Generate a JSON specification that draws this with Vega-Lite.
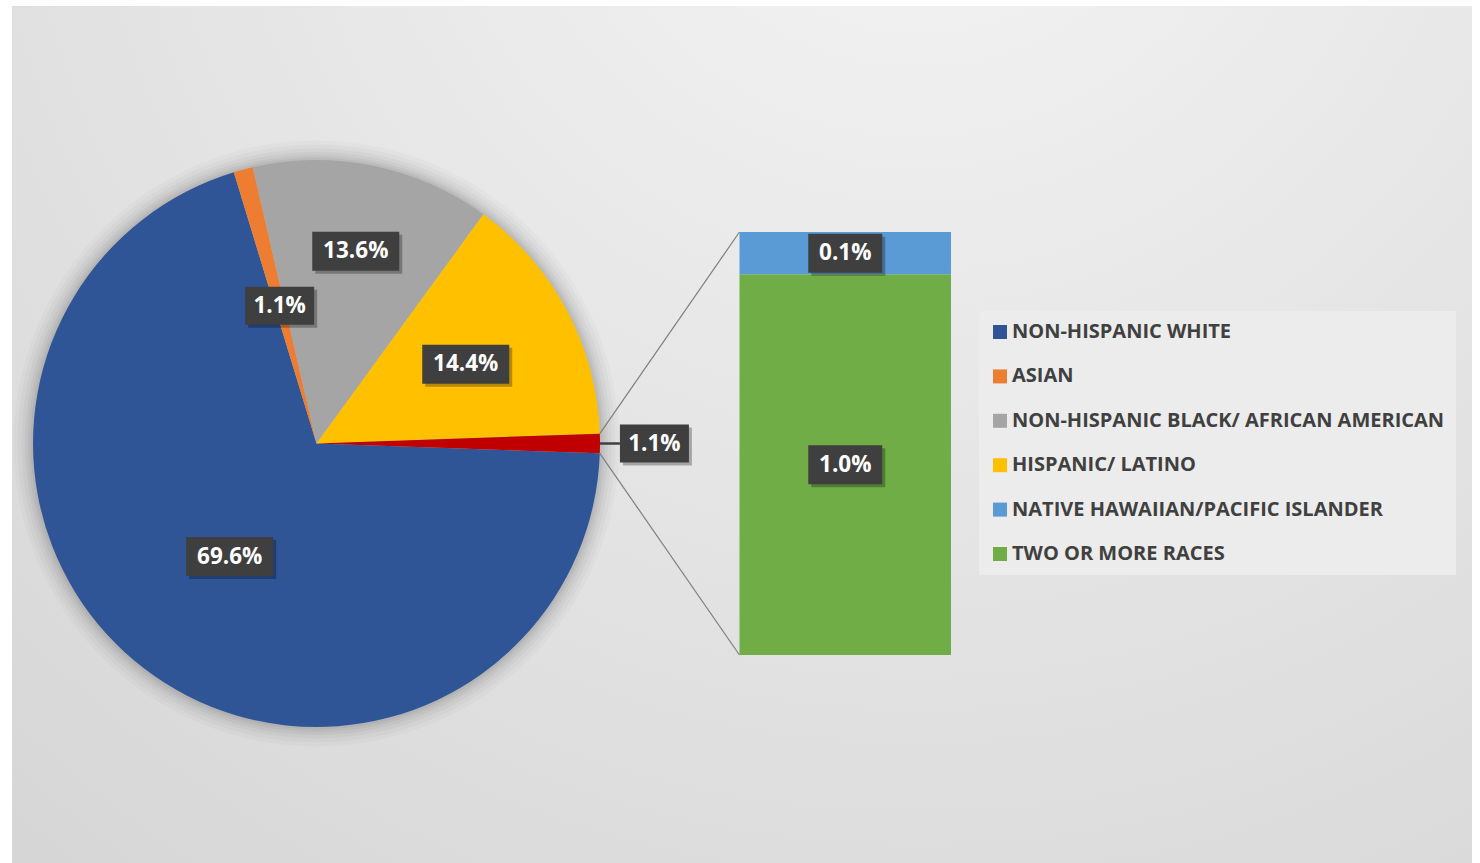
{
  "$schema": "https://vega.github.io/schema/vega-lite/v6.json",
  "width": 1480,
  "height": 863,
  "autosize": {"type": "fit", "contains": "padding"},
  "padding": {"left": 12, "top": 6, "right": 8, "bottom": 0},
  "background": "#ffffff",
  "config": {
    "view": {
      "stroke": null,
      "fill": {
        "gradient": "radial",
        "x1": 0.62, "y1": 0.05, "r1": 0,
        "x2": 0.62, "y2": 0.05, "r2": 1.05,
        "stops": [
          {"offset": 0, "color": "#f5f5f5"},
          {"offset": 1, "color": "#d3d3d3"}
        ]
      }
    },
    "font": "Open Sans"
  },
  "datasets": {
    "pie": [
      {"cat": "NON-HISPANIC WHITE", "share": 0.696, "ord": 1},
      {"cat": "ASIAN", "share": 0.011, "ord": 2},
      {"cat": "NON-HISPANIC BLACK/ AFRICAN AMERICAN", "share": 0.136, "ord": 3},
      {"cat": "HISPANIC/ LATINO", "share": 0.144, "ord": 4},
      {"cat": "OTHER", "share": 0.011, "ord": 5}
    ],
    "bar": [
      {"cat": "TWO OR MORE RACES", "share": 0.0099, "ord": 1},
      {"cat": "NATIVE HAWAIIAN/PACIFIC ISLANDER", "share": 0.0011, "ord": 2}
    ]
  },
  "layer": [
    {
      "data": {"values": [{"k": 1}]},
      "mark": {"type": "arc", "theta": 0, "theta2": 6.2832, "outerRadius": 303, "fill": "#000000", "opacity": 0.02},
      "encoding": {
        "x": {"datum": 0, "type": "quantitative", "scale": {"domain": [-0.0079184, 0.0300485], "nice": false, "zero": false}, "axis": null},
        "y": {"datum": 0.0055, "type": "quantitative", "scale": {"domain": [-0.005409, 0.0168771], "nice": false, "zero": false}, "axis": null}
      }
    },
    {
      "data": {"values": [{"k": 1}]},
      "mark": {"type": "arc", "theta": 0, "theta2": 6.2832, "outerRadius": 299, "fill": "#000000", "opacity": 0.025},
      "encoding": {
        "x": {"datum": 0, "type": "quantitative", "scale": {"domain": [-0.0079184, 0.0300485], "nice": false, "zero": false}, "axis": null},
        "y": {"datum": 0.0055, "type": "quantitative", "scale": {"domain": [-0.005409, 0.0168771], "nice": false, "zero": false}, "axis": null}
      }
    },
    {
      "data": {"values": [{"k": 1}]},
      "mark": {"type": "arc", "theta": 0, "theta2": 6.2832, "outerRadius": 295, "fill": "#000000", "opacity": 0.03},
      "encoding": {
        "x": {"datum": 0, "type": "quantitative", "scale": {"domain": [-0.0079184, 0.0300485], "nice": false, "zero": false}, "axis": null},
        "y": {"datum": 0.0055, "type": "quantitative", "scale": {"domain": [-0.005409, 0.0168771], "nice": false, "zero": false}, "axis": null}
      }
    },
    {
      "data": {"values": [{"k": 1}]},
      "mark": {"type": "arc", "theta": 0, "theta2": 6.2832, "outerRadius": 291.5, "fill": "#000000", "opacity": 0.035},
      "encoding": {
        "x": {"datum": 0, "type": "quantitative", "scale": {"domain": [-0.0079184, 0.0300485], "nice": false, "zero": false}, "axis": null},
        "y": {"datum": 0.0055, "type": "quantitative", "scale": {"domain": [-0.005409, 0.0168771], "nice": false, "zero": false}, "axis": null}
      }
    },
    {
      "data": {"values": [{"k": 1}]},
      "mark": {"type": "arc", "theta": 0, "theta2": 6.2832, "outerRadius": 288.5, "fill": "#000000", "opacity": 0.04},
      "encoding": {
        "x": {"datum": 0, "type": "quantitative", "scale": {"domain": [-0.0079184, 0.0300485], "nice": false, "zero": false}, "axis": null},
        "y": {"datum": 0.0055, "type": "quantitative", "scale": {"domain": [-0.005409, 0.0168771], "nice": false, "zero": false}, "axis": null}
      }
    },
    {
      "data": {"values": [{"k": 1}]},
      "mark": {"type": "arc", "theta": 0, "theta2": 6.2832, "outerRadius": 286, "fill": "#000000", "opacity": 0.045},
      "encoding": {
        "x": {"datum": 0, "type": "quantitative", "scale": {"domain": [-0.0079184, 0.0300485], "nice": false, "zero": false}, "axis": null},
        "y": {"datum": 0.0055, "type": "quantitative", "scale": {"domain": [-0.005409, 0.0168771], "nice": false, "zero": false}, "axis": null}
      }
    },
    {
      "data": {"name": "pie"},
      "mark": {"type": "arc", "outerRadius": 283.5, "stroke": null},
      "encoding": {
        "theta": {"field": "share", "type": "quantitative", "stack": true, "scale": {"range": [1.605423, 7.888608]}},
        "order": {"field": "ord", "type": "quantitative"},
        "color": {
          "field": "cat", "type": "nominal",
          "scale": {
            "domain": ["NON-HISPANIC WHITE", "ASIAN", "NON-HISPANIC BLACK/ AFRICAN AMERICAN", "HISPANIC/ LATINO", "NATIVE HAWAIIAN/PACIFIC ISLANDER", "TWO OR MORE RACES", "OTHER"],
            "range": ["#2f5597", "#ed7d31", "#a5a5a5", "#ffc000", "#5b9bd5", "#70ad47", "#c00000"]
          },
          "legend": {
            "title": null, "orient": "none", "legendX": 967, "legendY": 305,
            "values": ["NON-HISPANIC WHITE", "ASIAN", "NON-HISPANIC BLACK/ AFRICAN AMERICAN", "HISPANIC/ LATINO", "NATIVE HAWAIIAN/PACIFIC ISLANDER", "TWO OR MORE RACES"],
            "symbolType": "square", "symbolSize": 196, "symbolStrokeWidth": 0,
            "labelFont": "Open Sans", "labelFontWeight": "bold", "labelFontSize": 20, "labelColor": "#404040",
            "labelLimit": 0, "labelOffset": 2, "rowPadding": 24.4, "padding": 11,
            "fillColor": "#ececec", "strokeColor": null
          }
        },
        "x": {"datum": 0, "type": "quantitative", "scale": {"domain": [-0.0079184, 0.0300485], "nice": false, "zero": false}, "axis": null},
        "y": {"datum": 0.0055, "type": "quantitative", "scale": {"domain": [-0.005409, 0.0168771], "nice": false, "zero": false}, "axis": null}
      }
    },
    {
      "data": {"values": [{"k": 1}]},
      "mark": {"type": "rule", "color": "#7f7f7f", "strokeWidth": 1.2},
      "encoding": {
        "x": {"datum": 0.0073679, "type": "quantitative", "scale": {"domain": [-0.0079184, 0.0300485], "nice": false, "zero": false}, "axis": null},
        "y": {"datum": 0.0057552, "type": "quantitative", "scale": {"domain": [-0.005409, 0.0168771], "nice": false, "zero": false}, "axis": null},
        "x2": {"datum": 0.011},
        "y2": {"datum": 0.011}
      }
    },
    {
      "data": {"values": [{"k": 1}]},
      "mark": {"type": "rule", "color": "#7f7f7f", "strokeWidth": 1.2},
      "encoding": {
        "x": {"datum": 0.0073679, "type": "quantitative", "scale": {"domain": [-0.0079184, 0.0300485], "nice": false, "zero": false}, "axis": null},
        "y": {"datum": 0.0052448, "type": "quantitative", "scale": {"domain": [-0.005409, 0.0168771], "nice": false, "zero": false}, "axis": null},
        "x2": {"datum": 0.011},
        "y2": {"datum": 0}
      }
    },
    {
      "data": {"values": [{"k": 1}]},
      "mark": {"type": "rule", "color": "#404040", "strokeWidth": 2.5},
      "encoding": {
        "x": {"datum": 0.0073723, "type": "quantitative", "scale": {"domain": [-0.0079184, 0.0300485], "nice": false, "zero": false}, "axis": null},
        "y": {"datum": 0.0055, "type": "quantitative", "scale": {"domain": [-0.005409, 0.0168771], "nice": false, "zero": false}, "axis": null},
        "x2": {"datum": 0.00789}
      }
    },
    {
      "data": {"name": "bar"},
      "transform": [
        {"stack": "share", "groupby": [], "sort": [{"field": "ord", "order": "ascending"}], "as": ["s0", "s1"]}
      ],
      "mark": {"type": "rect"},
      "encoding": {
        "x": {"datum": 0.011, "type": "quantitative", "scale": {"domain": [-0.0079184, 0.0300485], "nice": false, "zero": false}, "axis": null},
        "x2": {"datum": 0.0165},
        "y": {"field": "s0", "type": "quantitative", "scale": {"domain": [-0.005409, 0.0168771], "nice": false, "zero": false}, "axis": null},
        "y2": {"field": "s1"},
        "color": {
          "field": "cat", "type": "nominal",
          "scale": {
            "domain": ["NON-HISPANIC WHITE", "ASIAN", "NON-HISPANIC BLACK/ AFRICAN AMERICAN", "HISPANIC/ LATINO", "NATIVE HAWAIIAN/PACIFIC ISLANDER", "TWO OR MORE RACES", "OTHER"],
            "range": ["#2f5597", "#ed7d31", "#a5a5a5", "#ffc000", "#5b9bd5", "#70ad47", "#c00000"]
          },
          "legend": {
            "title": null, "orient": "none", "legendX": 967, "legendY": 305,
            "values": ["NON-HISPANIC WHITE", "ASIAN", "NON-HISPANIC BLACK/ AFRICAN AMERICAN", "HISPANIC/ LATINO", "NATIVE HAWAIIAN/PACIFIC ISLANDER", "TWO OR MORE RACES"],
            "symbolType": "square", "symbolSize": 196, "symbolStrokeWidth": 0,
            "labelFont": "Open Sans", "labelFontWeight": "bold", "labelFontSize": 20, "labelColor": "#404040",
            "labelLimit": 0, "labelOffset": 2, "rowPadding": 24.4, "padding": 11,
            "fillColor": "#ececec", "strokeColor": null
          }
        }
      }
    },
    {
      "data": {"name": "bar"},
      "transform": [
        {"stack": "share", "groupby": [], "sort": [{"field": "ord", "order": "ascending"}], "as": ["s0", "s1"]},
        {"calculate": "(datum.s0 + datum.s1) / 2", "as": "mid"}
      ],
      "layer": [
        {
          "mark": {"type": "rect", "fill": "#000000", "opacity": 0.28, "xOffset": -34, "x2Offset": 40, "yOffset": -16.5, "y2Offset": 22.5},
          "encoding": {
            "x": {"datum": 0.01375, "type": "quantitative", "scale": {"domain": [-0.0079184, 0.0300485], "nice": false, "zero": false}, "axis": null},
            "x2": {"datum": 0.01375},
            "y": {"field": "mid", "type": "quantitative", "scale": {"domain": [-0.005409, 0.0168771], "nice": false, "zero": false}, "axis": null},
            "y2": {"field": "mid"}
          }
        },
        {
          "mark": {"type": "rect", "fill": "#3f3f3f", "xOffset": -37, "x2Offset": 37, "yOffset": -19.5, "y2Offset": 19.5},
          "encoding": {
            "x": {"datum": 0.01375, "type": "quantitative", "scale": {"domain": [-0.0079184, 0.0300485], "nice": false, "zero": false}, "axis": null},
            "x2": {"datum": 0.01375},
            "y": {"field": "mid", "type": "quantitative", "scale": {"domain": [-0.005409, 0.0168771], "nice": false, "zero": false}, "axis": null},
            "y2": {"field": "mid"}
          }
        },
        {
          "mark": {"type": "text", "color": "#ffffff", "font": "Open Sans", "fontWeight": "bold", "fontSize": 22.5, "align": "center", "baseline": "middle"},
          "encoding": {
            "x": {"datum": 0.01375, "type": "quantitative", "scale": {"domain": [-0.0079184, 0.0300485], "nice": false, "zero": false}, "axis": null},
            "y": {"field": "mid", "type": "quantitative", "scale": {"domain": [-0.005409, 0.0168771], "nice": false, "zero": false}, "axis": null},
            "text": {"field": "share", "type": "quantitative", "format": ".1%"}
          }
        }
      ]
    },
    {
      "data": {"name": "pie"},
      "transform": [
        {"joinaggregate": [{"op": "sum", "field": "share", "as": "total"}]},
        {"stack": "share", "groupby": [], "sort": [{"field": "ord", "order": "ascending"}], "as": ["s0", "s1"]},
        {"calculate": "1.605423 + PI * (datum.s0 + datum.s1) / datum.total", "as": "ang"},
        {"calculate": "0.0073723 * (datum.cat === 'NON-HISPANIC BLACK/ AFRICAN AMERICAN' ? 0.692 : (datum.cat === 'HISPANIC/ LATINO' ? 0.596 : (datum.cat === 'OTHER' ? 1.192 : 0.503)))", "as": "lr"},
        {"calculate": "datum.lr * sin(datum.ang)", "as": "lx"},
        {"calculate": "0.0055 + datum.lr * cos(datum.ang)", "as": "ly"}
      ],
      "layer": [
        {
          "transform": [{"filter": "datum.share >= 0.1"}],
          "mark": {"type": "rect", "fill": "#000000", "opacity": 0.28, "xOffset": -40.5, "x2Offset": 46.5, "yOffset": -16.5, "y2Offset": 22.5},
          "encoding": {
            "x": {"field": "lx", "type": "quantitative", "scale": {"domain": [-0.0079184, 0.0300485], "nice": false, "zero": false}, "axis": null},
            "x2": {"field": "lx"},
            "y": {"field": "ly", "type": "quantitative", "scale": {"domain": [-0.005409, 0.0168771], "nice": false, "zero": false}, "axis": null},
            "y2": {"field": "ly"}
          }
        },
        {
          "transform": [{"filter": "datum.share >= 0.1"}],
          "mark": {"type": "rect", "fill": "#3f3f3f", "xOffset": -43.5, "x2Offset": 43.5, "yOffset": -19.5, "y2Offset": 19.5},
          "encoding": {
            "x": {"field": "lx", "type": "quantitative", "scale": {"domain": [-0.0079184, 0.0300485], "nice": false, "zero": false}, "axis": null},
            "x2": {"field": "lx"},
            "y": {"field": "ly", "type": "quantitative", "scale": {"domain": [-0.005409, 0.0168771], "nice": false, "zero": false}, "axis": null},
            "y2": {"field": "ly"}
          }
        },
        {
          "transform": [{"filter": "datum.share < 0.1"}],
          "mark": {"type": "rect", "fill": "#000000", "opacity": 0.28, "xOffset": -31.5, "x2Offset": 37.5, "yOffset": -16, "y2Offset": 22},
          "encoding": {
            "x": {"field": "lx", "type": "quantitative", "scale": {"domain": [-0.0079184, 0.0300485], "nice": false, "zero": false}, "axis": null},
            "x2": {"field": "lx"},
            "y": {"field": "ly", "type": "quantitative", "scale": {"domain": [-0.005409, 0.0168771], "nice": false, "zero": false}, "axis": null},
            "y2": {"field": "ly"}
          }
        },
        {
          "transform": [{"filter": "datum.share < 0.1"}],
          "mark": {"type": "rect", "fill": "#3f3f3f", "xOffset": -34.5, "x2Offset": 34.5, "yOffset": -19, "y2Offset": 19},
          "encoding": {
            "x": {"field": "lx", "type": "quantitative", "scale": {"domain": [-0.0079184, 0.0300485], "nice": false, "zero": false}, "axis": null},
            "x2": {"field": "lx"},
            "y": {"field": "ly", "type": "quantitative", "scale": {"domain": [-0.005409, 0.0168771], "nice": false, "zero": false}, "axis": null},
            "y2": {"field": "ly"}
          }
        },
        {
          "mark": {"type": "text", "color": "#ffffff", "font": "Open Sans", "fontWeight": "bold", "fontSize": 22.5, "align": "center", "baseline": "middle"},
          "encoding": {
            "x": {"field": "lx", "type": "quantitative", "scale": {"domain": [-0.0079184, 0.0300485], "nice": false, "zero": false}, "axis": null},
            "y": {"field": "ly", "type": "quantitative", "scale": {"domain": [-0.005409, 0.0168771], "nice": false, "zero": false}, "axis": null},
            "text": {"field": "share", "type": "quantitative", "format": ".1%"}
          }
        }
      ]
    }
  ]
}
